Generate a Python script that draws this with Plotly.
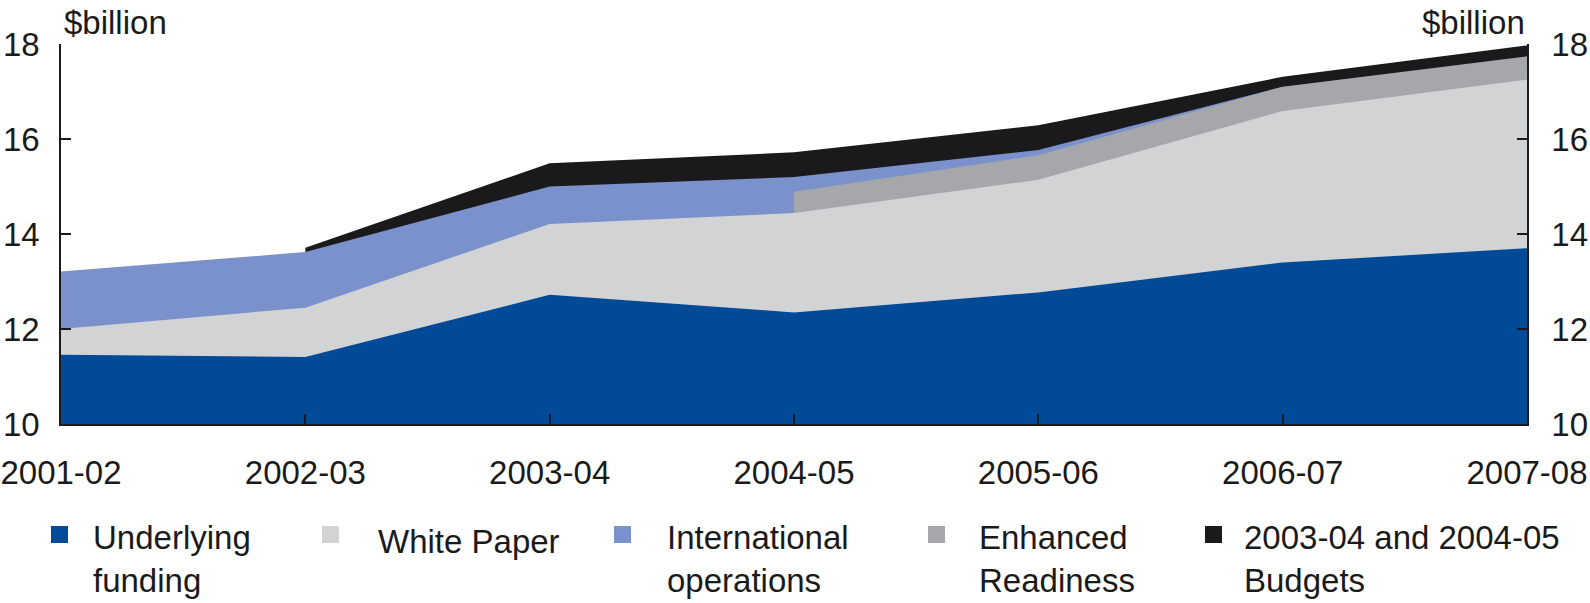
import numpy as np
import plotly.graph_objects as go

years = ["2001-02", "2002-03", "2003-04", "2004-05", "2005-06", "2006-07", "2007-08"]

# $billion (None = not shown for that year)
underlying = [11.46, 11.41, 12.72, 12.35, 12.77, 13.40, 13.70]
white_paper = [0.54, 1.04, 1.49, 2.09, 2.37, 3.19, 3.55]
enhanced = [None, None, None, 0.45, 0.52, 0.51, 0.49]
international = [1.21, 1.17, 0.79, 0.31, 0.11, 0.0, None]
budgets = [None, 0.09, 0.49, 0.52, 0.52, 0.21, 0.23]

names = ["Underlying<br>funding", "White Paper", "International<br>operations",
         "Enhanced<br>Readiness", "2003-04 and 2004-05<br>Budgets"]
colors = ["#004a98", "#d1d3d4", "#7b91cb", "#a5a7aa", "#1a1a1c"]

# stack order bottom -> top: underlying, white paper, enhanced, international, budgets
stack = [underlying, white_paper, enhanced, international, budgets]
stack_colors = [colors[0], colors[1], colors[3], colors[2], colors[4]]


def num(a):
    return np.array([0.0 if v is None else v for v in a])


cum = np.cumsum([num(s) for s in stack], axis=0)

W, H = 1590, 603
L, R, T, B = 61, 1527, 44, 424
ink = "#1a1a1a"
font = "Liberation Sans, Arial, sans-serif"
fs = 33

fig = go.Figure()

# paint from the top layer down so each lower layer covers the one above it
for i in reversed(range(len(stack))):
    xs = [y for y, v in zip(years, stack[i]) if v is not None]
    ys = [c for c, v in zip(cum[i], stack[i]) if v is not None]
    fig.add_trace(go.Scatter(x=xs, y=ys, mode="lines", fill="tozeroy",
                             line=dict(width=0, color=stack_colors[i]),
                             fillcolor=stack_colors[i], showlegend=False,
                             hoverinfo="skip"))

# invisible copy so the right-hand axis is drawn
fig.add_trace(go.Scatter(x=years, y=underlying, yaxis="y2", mode="lines",
                         line=dict(width=0), opacity=0, showlegend=False,
                         hoverinfo="skip"))


def px(x):
    return (x - L) / (R - L)


def py(y):
    return (B - y) / (B - T)


# legend built by hand to match the original spacing
sq_x = [51, 322, 614, 928, 1205]
tx_x = [91, 376, 665, 977, 1242]
for i in range(5):
    fig.add_shape(type="rect", xref="paper", yref="paper",
                  x0=px(sq_x[i]), x1=px(sq_x[i] + 17), y0=py(543), y1=py(526),
                  fillcolor=colors[i], line=dict(width=0))
    two = "<br>" in names[i]
    fig.add_annotation(xref="paper", yref="paper", x=px(tx_x[i]),
                       y=py(559 if two else 541), xanchor="left", yanchor="middle",
                       text=names[i], showarrow=False, align="left",
                       font=dict(size=fs, color=ink, family=font))

for xa, anchor in [(px(62), "left"), (1.0, "right")]:
    fig.add_annotation(xref="paper", yref="paper", x=xa, y=py(23),
                       xanchor=anchor, yanchor="middle", text="$billion",
                       showarrow=False, font=dict(size=fs, color=ink, family=font))

yax = dict(range=[10, 18], dtick=2, ticks="inside", ticklen=10, tickwidth=1.5,
           tickcolor=ink, showline=True, linecolor=ink, linewidth=1.5,
           showgrid=False, zeroline=False, automargin=False,
           tickfont=dict(size=fs, color=ink, family=font))

fig.update_layout(
    width=W, height=H,
    margin=dict(l=L, r=W - R, t=T, b=H - B, autoexpand=False),
    plot_bgcolor="white", paper_bgcolor="white",
    xaxis=dict(type="category", categoryorder="array", categoryarray=years,
               range=[0, 6], ticks="inside", ticklen=10, tickwidth=1.5,
               tickcolor=ink, showline=True, linecolor=ink, linewidth=1.5,
               showgrid=False, zeroline=False, ticklabelstandoff=19,
               automargin=False,
               tickfont=dict(size=fs, color=ink, family=font)),
    yaxis=dict(yax, ticklabelstandoff=13),
    yaxis2=dict(yax, overlaying="y", side="right", matches="y",
                ticklabelstandoff=16),
)

# drop the browser's default body margin so the chart sits at the page corner
fig.write_html("out.html", config={"displayModeBar": False},
               post_script="document.body.style.margin='0';")
